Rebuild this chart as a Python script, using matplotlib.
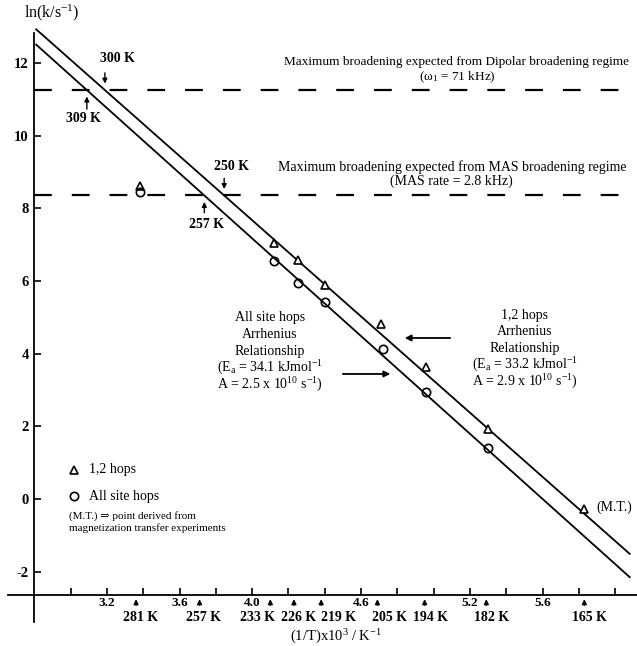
import numpy as np
import matplotlib.pyplot as plt

plt.rcParams['font.family'] = ['Liberation Serif', 'DejaVu Serif']
plt.rcParams['mathtext.fontset'] = 'custom'
plt.rcParams['mathtext.rm'] = 'Liberation Serif'
plt.rcParams['mathtext.it'] = 'Liberation Serif:italic'
plt.rcParams['mathtext.bf'] = 'Liberation Serif:bold'

# values (x = (1/T)x10^3 as labelled, y = ln k)
hop12_x = [3.38, 4.12, 4.25, 4.40, 4.71, 4.96, 5.30, 5.83]
hop12_y = [8.62, 7.05, 6.58, 5.88, 4.81, 3.64, 1.93, -0.28]
allsite_x = [3.38, 4.12, 4.25, 4.40, 4.72, 4.96, 5.30]
allsite_y = [8.45, 6.56, 5.95, 5.42, 4.13, 2.95, 1.40]

# Arrhenius fit lines (end points)
fit_x = [2.81, 6.08]
fit12_y = [12.92, -1.51]
fitall_y = [12.50, -2.15]

limit_dipolar = 11.25
limit_mas = 8.35

temp_labels = ['281 K', '257 K', '233 K', '226 K', '219 K', '205 K', '194 K', '182 K', '165 K']
temp_pos = [3.36, 3.71, 4.10, 4.23, 4.38, 4.69, 4.95, 5.29, 5.83]

xticks = [3.0, 3.2, 3.4, 3.6, 3.8, 4.0, 4.2, 4.4, 4.6, 4.8, 5.0, 5.2, 5.4, 5.6, 5.8, 6.0]
xtick_labels = ['', '3.2', '', '3.6', '', '4.0', '', '', '4.6', '', '', '5.2', '', '5.6', '', '']
yticks = [-2, 0, 2, 4, 6, 8, 10, 12]

fig = plt.figure(figsize=(6.37, 6.46), dpi=100)
ax = fig.add_axes([0, 0, 1, 1])
ax.set_xlim(2.6105, 6.1201)
ax.set_ylim(-4.044, 13.728)

for s in ['top', 'right']:
    ax.spines[s].set_visible(False)
ax.spines['left'].set_position(('data', 2.8))
ax.spines['bottom'].set_position(('data', -2.65))
ax.spines['left'].set_bounds(-3.38, 12.82)
ax.spines['bottom'].set_bounds(2.655, 6.12)
ax.spines['left'].set_linewidth(1.3)
ax.spines['bottom'].set_linewidth(1.3)

ax.set_xticks(xticks, xtick_labels)
ax.set_yticks(yticks, [str(v) for v in yticks])
ax.tick_params(axis='x', direction='in', length=5, width=1.2, pad=1.5, labelsize=9.5)
ax.tick_params(axis='y', direction='in', length=5, width=1.2, pad=4, labelsize=10.5)
for lab in ax.get_xticklabels() + ax.get_yticklabels():
    lab.set_fontweight('bold')

# fit lines and limits
ax.plot(fit_x, fit12_y, color='k', lw=1.3)
ax.plot(fit_x, fitall_y, color='k', lw=1.3)
for lim in [limit_dipolar, limit_mas]:
    ax.plot([2.8, 6.12], [lim, lim], color='k', lw=1.6, ls=(0, (8, 9)))

ax.plot(hop12_x, hop12_y, ls='none', marker='^', ms=6, mfc='white', mec='k', mew=1.2)
ax.plot(allsite_x, allsite_y, ls='none', marker='o', ms=6, mfc='none', mec='k', mew=1.2)

# crossing temperatures on the limit lines
arr = dict(arrowstyle='-|>', color='k', lw=1.0, mutation_scale=7)
x_up_d = np.interp(limit_dipolar, fit12_y[::-1], fit_x[::-1])
x_lo_d = np.interp(limit_dipolar, fitall_y[::-1], fit_x[::-1])
x_up_m = np.interp(limit_mas, fit12_y[::-1], fit_x[::-1])
x_lo_m = np.interp(limit_mas, fitall_y[::-1], fit_x[::-1])
ax.annotate('', xy=(x_up_d, limit_dipolar + 0.1), xytext=(x_up_d, limit_dipolar + 0.55), arrowprops=arr)
ax.text(x_up_d + 0.07, 12.13, '300 K', ha='center', va='center', fontsize=10, fontweight='bold')
ax.annotate('', xy=(x_lo_d, limit_dipolar - 0.1), xytext=(x_lo_d, limit_dipolar - 0.6), arrowprops=arr)
ax.text(x_lo_d - 0.02, 10.48, '309 K', ha='center', va='center', fontsize=10, fontweight='bold')
ax.annotate('', xy=(x_up_m, limit_mas + 0.1), xytext=(x_up_m, limit_mas + 0.55), arrowprops=arr)
ax.text(x_up_m + 0.04, 9.16, '250 K', ha='center', va='center', fontsize=10, fontweight='bold')
ax.annotate('', xy=(x_lo_m, limit_mas - 0.1), xytext=(x_lo_m, limit_mas - 0.55), arrowprops=arr)
ax.text(x_lo_m + 0.01, 7.54, '257 K', ha='center', va='center', fontsize=10, fontweight='bold')

ax.text(5.128, 12.02, 'Maximum broadening expected from Dipolar broadening regime',
        ha='center', va='center', fontsize=9.5)
ax.text(5.128, 11.61, '(ω$_1$ = 71 kHz)', ha='center', va='center', fontsize=9.5)
ax.text(5.100, 9.13, 'Maximum broadening expected from MAS broadening regime',
        ha='center', va='center', fontsize=10)
ax.text(5.100, 8.75, '(MAS rate = 2.8 kHz)', ha='center', va='center', fontsize=10)

left_block = ['All site hops', 'Arrhenius', 'Relationship',
              '(E$_\\mathrm{a}$ = 34.1 kJmol$^{-1}$', 'A = 2.5 x 10$^{10}$ s$^{-1}$)']
right_block = ['1,2 hops', 'Arrhenius', 'Relationship',
               '(E$_\\mathrm{a}$ = 33.2 kJmol$^{-1}$', 'A = 2.9 x 10$^{10}$ s$^{-1}$)']
for i, t in enumerate(left_block):
    ax.text(4.098, 4.98 - 0.46 * i, t, ha='center', va='center', fontsize=10)
for i, t in enumerate(right_block):
    ax.text(5.503, 5.06 - 0.46 * i, t, ha='center', va='center', fontsize=10)
ax.annotate('', xy=(4.776, 3.44), xytext=(4.484, 3.44),
            arrowprops=dict(arrowstyle='-|>', color='k', lw=1.3, mutation_scale=9))
ax.annotate('', xy=(4.825, 4.43), xytext=(5.106, 4.43),
            arrowprops=dict(arrowstyle='-|>', color='k', lw=1.3, mutation_scale=9))

# legend
ax.plot([3.02], [0.80], marker='^', ms=6, mfc='white', mec='k', mew=1.2)
ax.text(3.10, 0.80, '1,2 hops', ha='left', va='center', fontsize=10)
ax.plot([3.02], [0.08], marker='o', ms=6, mfc='none', mec='k', mew=1.2)
ax.text(3.10, 0.08, 'All site hops', ha='left', va='center', fontsize=10)
ax.text(2.99, -0.46, '(M.T.) ⇒ point derived from', ha='left', va='center', fontsize=8)
ax.text(2.99, -0.81, 'magnetization transfer experiments', ha='left', va='center', fontsize=8)
ax.text(5.894, -0.22, '(M.T.)', ha='left', va='center', fontsize=10)

# temperature markers below the axis
label_x = [3.385, 3.734, 4.029, 4.258, 4.478, 4.754, 4.982, 5.321, 5.86]
for lab, x, lx in zip(temp_labels, temp_pos, label_x):
    ax.annotate('', xy=(x, -2.68), xytext=(x, -3.0), arrowprops=arr)
    ax.text(lx, -3.27, lab, ha='center', va='center', fontsize=10, fontweight='bold')

ax.text(2.897, 13.37, 'ln(k/s$^{-1}$)', ha='center', va='center', fontsize=11.5)
ax.text(4.462, -3.80, '(1/T)x10$^3$ / K$^{-1}$', ha='center', va='center', fontsize=10.5)

fig.savefig('out.png', dpi=100)
